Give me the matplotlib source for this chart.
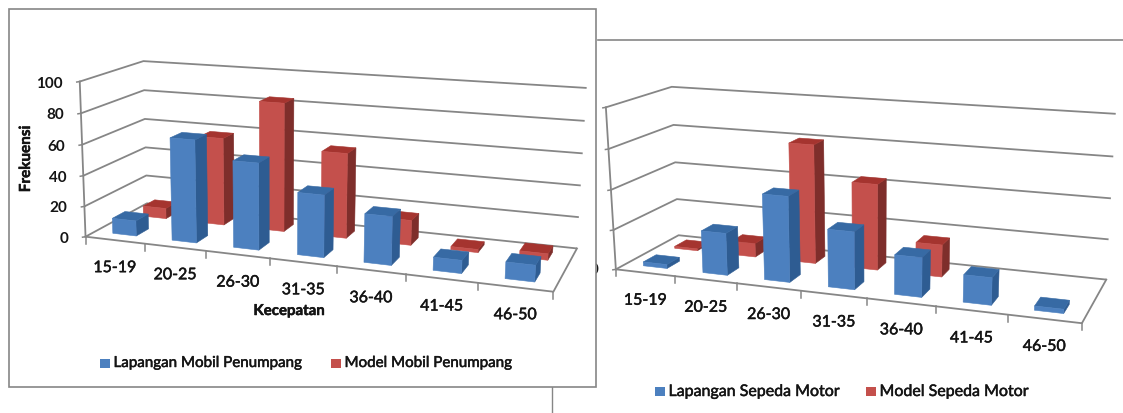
import numpy as np
import matplotlib
matplotlib.use("Agg")
import matplotlib.pyplot as plt
import matplotlib.patheffects as pe
from matplotlib.patches import Polygon, Rectangle

plt.rcParams['font.family'] = ['Lato', 'DejaVu Sans']

categories = ["15-19", "20-25", "26-30", "31-35", "36-40", "41-45", "46-50"]

car_field = [10, 66, 55, 39, 30, 8, 10]
car_model = [7, 58, 84, 55, 16, 2, 4]
car_ticks = [0, 20, 40, 60, 80, 100]

motor_field = [2, 21, 42, 28, 19, 13, 2]
motor_model = [1, 7, 60, 43, 16, 0, 0]
motor_ticks = [0, 20, 40, 60, 80]

BLUE = ("#4C80BF", "#2E5C92", "#376AA4")
RED = ("#C4504C", "#7E2E2B", "#A5342F")
GRID = "#868686"
TEXT = "#141414"
HEAVY = [pe.withStroke(linewidth=0.35, foreground=TEXT)]

# Camera calibration: (category, depth, height fraction) -> canvas pixel
CAR_CAMERA = [
    ((0, 1, 1.0), (144.7, 62.3)), ((0, 1, .8), (144.7, 91)), ((0, 1, .6), (144.7, 120)),
    ((0, 1, .4), (145.4, 149)), ((0, 1, .2), (145.4, 176.7)), ((0, 1, 0), (146.2, 204.3)),
    ((7, 1, 1.0), (586.3, 88.3)), ((7, 1, .8), (584.4, 122.3)), ((7, 1, .6), (582.9, 154.3)),
    ((7, 1, .4), (581, 186.7)), ((7, 1, .2), (579, 218.3)), ((7, 1, 0), (577.1, 248.3)),
    ((0, 0, 1), (78.5, 82.3)), ((0, 0, 0), (86.1, 237.3)),
    ((1, 0, 0), (145.4, 244.3)), ((2, 0, 0), (206.7, 251.7)), ((3, 0, 0), (270.6, 259.3)),
    ((4, 0, 0), (336.8, 267.3)), ((5, 0, 0), (405.7, 275.7)), ((6, 0, 0), (478.4, 284.3)),
    ((7, 0, 0), (553, 293.3)),
]
MOTOR_CAMERA = [
    ((0, 1, 1.0), (672, 87.7)), ((0, 1, .75), (673.1, 126)), ((0, 1, .5), (674.6, 163.3)),
    ((0, 1, .25), (676.8, 200)), ((0, 1, 0), (679.4, 236)),
    ((7, 1, 1.0), (1115.5, 115)), ((7, 1, .75), (1113.2, 157.3)), ((7, 1, .5), (1111.4, 199.3)),
    ((7, 1, .25), (1108.8, 240.7)), ((7, 1, 0), (1105.8, 280.7)),
    ((0, 0, 1), (606.2, 108.3)), ((0, 0, 0), (616.2, 270.7)),
    ((1, 0, 0), (674.9, 277.3)), ((2, 0, 0), (736.3, 284.3)), ((3, 0, 0), (801.3, 292)),
    ((4, 0, 0), (867.9, 299.3)), ((5, 0, 0), (935.9, 307.3)), ((6, 0, 0), (1007.7, 315.3)),
    ((7, 0, 0), (1082, 324)),
]


def fit_camera(pairs):
    """Direct linear transform for a 3x4 projective camera."""
    rows = []
    for (u, v, w), (x, y) in pairs:
        p = [u, v, w, 1]
        x, y = x / 500, y / 500
        rows.append(p + [0, 0, 0, 0] + [-x * c for c in p])
        rows.append([0, 0, 0, 0] + p + [-y * c for c in p])
    m = np.linalg.svd(np.array(rows, float))[2][-1].reshape(3, 4)

    def project(u, v, w):
        h = m @ np.array([u, v, w, 1.0])
        return 500 * h[0] / h[2], 500 * h[1] / h[2]
    return project


def draw_bar(ax, proj, i, v0, v1, frac, colors, half=0.2):
    u0, u1 = i + .5 - half, i + .5 + half
    front = [proj(u0, v0, 0), proj(u1, v0, 0), proj(u1, v0, frac), proj(u0, v0, frac)]
    side = [proj(u1, v0, 0), proj(u1, v1, 0), proj(u1, v1, frac), proj(u1, v0, frac)]
    top = [proj(u0, v0, frac), proj(u1, v0, frac), proj(u1, v1, frac), proj(u0, v1, frac)]
    for face, col in zip((side, top, front), (colors[1], colors[2], colors[0])):
        ax.add_patch(Polygon(face, closed=True, fc=col, ec=col, lw=0.4, zorder=4))


def draw_panel(ax, camera, field, model, ticks, show_labels):
    proj = fit_camera(camera)
    top = ticks[-1]
    for t in ticks:
        f = t / top
        xs, ys = zip(proj(0, 0, f), proj(0, 1, f), proj(7, 1, f))
        ax.plot(xs, ys, color=GRID, lw=1.3, zorder=2, solid_capstyle='butt')
        a = proj(0, 0, f)
        ax.plot([a[0] - 3, a[0]], [a[1] + .5, a[1]], color=GRID, lw=1.1, zorder=2)
        if show_labels:
            ax.text(a[0] - 17, a[1] + 1, str(t), ha='right', va='center',
                    fontsize=11, fontweight='bold', color=TEXT, zorder=6)
    xs, ys = zip(proj(0, 0, 0), proj(0, 0, 1))
    ax.plot(xs, ys, color=GRID, lw=1.3, zorder=2)
    xs, ys = zip(proj(0, 0, 0), proj(7, 0, 0), proj(7, 1, 0))
    ax.plot(xs, ys, color=GRID, lw=1.3, zorder=2)
    for i in range(8):
        x, y = proj(i, 0, 0)
        ax.plot([x, x], [y, y + 7], color=GRID, lw=1.1, zorder=2)
    for i, c in enumerate(categories):
        x, y = proj(i + .5, 0, 0)
        ax.text(x, y + 28, c, ha='center', va='center', fontsize=11.5,
                color=TEXT, path_effects=HEAVY, zorder=6)
    for i, val in enumerate(model):
        if val > 0:
            draw_bar(ax, proj, i, .65, .85, val / top, RED)
    for i, val in enumerate(field):
        if val > 0:
            draw_bar(ax, proj, i, .15, .35, val / top, BLUE)


def legend_entry(ax, x, y, color, label, size):
    ax.add_patch(Rectangle((x, y - 4.5), 9.5, 9, fc=color, ec='none', zorder=6))
    ax.text(x + 13.5, y, label, ha='left', va='center', fontsize=size,
            color=TEXT, path_effects=HEAVY, zorder=6)


fig = plt.figure(figsize=(11.23, 4.14), dpi=100, facecolor='white')
ax = fig.add_axes([0, 0, 1, 1])
ax.set_xlim(0, 1123)
ax.set_ylim(414, 0)
ax.axis('off')

# Motorcycle chart sits behind the passenger-car frame
ax.plot([598, 1123], [40.5, 40.5], color=GRID, lw=1.2, zorder=1)
draw_panel(ax, MOTOR_CAMERA, motor_field, motor_model, motor_ticks, False)
ax.text(594.3, 270, "0", ha='center', va='center', fontsize=11, color=TEXT, zorder=1.5)
legend_entry(ax, 655, 393, BLUE[0], "Lapangan Sepeda Motor", 11.5)
legend_entry(ax, 866, 393, RED[0], "Model Sepeda Motor", 11.5)
ax.plot([551.5, 551.5], [388, 414], color=GRID, lw=1.0, zorder=1)

# Passenger-car chart in its framed box
ax.add_patch(Rectangle((8.5, 9.5), 587.5, 378.5, fc='white', ec=GRID, lw=1.2, zorder=1.8))
draw_panel(ax, CAR_CAMERA, car_field, car_model, car_ticks, True)
ax.text(26, 160, "Frekuensi", rotation=90, ha='center', va='center', fontsize=11,
        fontweight='bold', color=TEXT, path_effects=HEAVY, zorder=6)
ax.text(289, 312, "Kecepatan", ha='center', va='center', fontsize=10.8,
        fontweight='bold', color=TEXT, path_effects=HEAVY, zorder=6)
legend_entry(ax, 100, 364, BLUE[0], "Lapangan Mobil Penumpang", 10.9)
legend_entry(ax, 331, 364, RED[0], "Model Mobil Penumpang", 10.9)

fig.savefig("out.png", dpi=100)
